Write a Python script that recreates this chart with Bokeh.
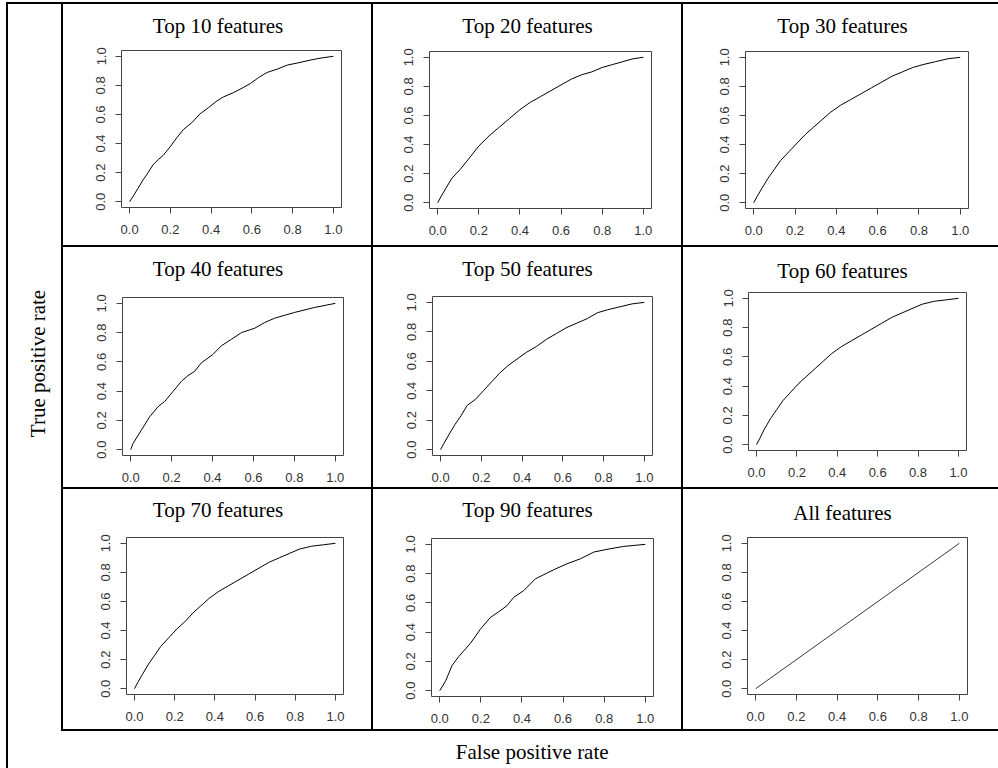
from bokeh.plotting import figure
from bokeh.layouts import row, column
from bokeh.models import Range1d, FixedTicker, PrintfTickFormatter, Spacer
from bokeh.core.properties import value
from bokeh.core.validation import silence
from bokeh.core.validation.warnings import MISSING_RENDERERS
from bokeh.embed import file_html
from bokeh.resources import INLINE

silence(MISSING_RENDERERS, True)

# ---------------- data ----------------
TITLES = ["Top 10 features", "Top 20 features", "Top 30 features",
          "Top 40 features", "Top 50 features", "Top 60 features",
          "Top 70 features", "Top 90 features", "All features"]
X_LABEL = "False positive rate"
Y_LABEL = "True positive rate"
TICKS = [0.0, 0.2, 0.4, 0.6, 0.8, 1.0]

FPR_TOP10 = [0.0, 0.016, 0.041, 0.066, 0.091, 0.115, 0.140, 0.165, 0.198, 0.231, 0.264, 0.305, 0.346,
             0.387, 0.428, 0.461, 0.511, 0.552, 0.593, 0.634, 0.675, 0.725, 0.774, 0.824, 0.890, 0.939, 1.0]
TPR_TOP10 = [0.0, 0.035, 0.092, 0.150, 0.201, 0.254, 0.289, 0.319, 0.376, 0.439, 0.497, 0.543, 0.605,
             0.647, 0.693, 0.721, 0.751, 0.781, 0.813, 0.855, 0.889, 0.912, 0.940, 0.954, 0.975, 0.988, 1.0]

FPR_TOP20 = [0.0, 0.015, 0.04, 0.07, 0.11, 0.15, 0.20, 0.25, 0.30, 0.35, 0.40, 0.45, 0.50,
             0.55, 0.60, 0.65, 0.70, 0.75, 0.80, 0.85, 0.90, 0.95, 1.0]
TPR_TOP20 = [0.0, 0.04, 0.10, 0.17, 0.23, 0.30, 0.39, 0.46, 0.52, 0.58, 0.64, 0.69, 0.73,
             0.77, 0.81, 0.85, 0.88, 0.90, 0.93, 0.95, 0.97, 0.99, 1.0]

FPR_TOP30 = [0.0, 0.015, 0.04, 0.07, 0.10, 0.13, 0.17, 0.21, 0.25, 0.29, 0.33, 0.37, 0.42, 0.47,
             0.52, 0.57, 0.62, 0.67, 0.72, 0.77, 0.82, 0.88, 0.94, 1.0]
TPR_TOP30 = [0.0, 0.04, 0.10, 0.17, 0.23, 0.29, 0.35, 0.41, 0.47, 0.52, 0.57, 0.62, 0.67, 0.71,
             0.75, 0.79, 0.83, 0.87, 0.90, 0.93, 0.95, 0.97, 0.99, 1.0]

FPR_TOP40 = [0.0, 0.011, 0.052, 0.093, 0.134, 0.166, 0.207, 0.248, 0.280, 0.313, 0.345, 0.402, 0.443,
             0.492, 0.541, 0.606, 0.655, 0.704, 0.801, 0.899, 1.0]
TPR_TOP40 = [0.0, 0.041, 0.133, 0.225, 0.294, 0.329, 0.398, 0.467, 0.506, 0.536, 0.593, 0.651, 0.710,
             0.754, 0.800, 0.830, 0.869, 0.899, 0.938, 0.972, 1.0]

FPR_TOP50 = [0.0, 0.015, 0.04, 0.07, 0.10, 0.13, 0.17, 0.21, 0.25, 0.29, 0.33, 0.37, 0.42, 0.47,
             0.52, 0.57, 0.62, 0.67, 0.72, 0.77, 0.82, 0.88, 0.94, 1.0]
TPR_TOP50 = [0.0, 0.04, 0.10, 0.17, 0.23, 0.30, 0.34, 0.40, 0.46, 0.52, 0.57, 0.61, 0.66, 0.70,
             0.75, 0.79, 0.83, 0.86, 0.89, 0.93, 0.95, 0.97, 0.99, 1.0]

FPR_TOP60 = [0.0, 0.015, 0.04, 0.07, 0.10, 0.13, 0.17, 0.21, 0.25, 0.29, 0.33, 0.37, 0.42, 0.47,
             0.52, 0.57, 0.62, 0.67, 0.72, 0.77, 0.82, 0.88, 0.94, 1.0]
TPR_TOP60 = [0.0, 0.04, 0.11, 0.18, 0.24, 0.30, 0.36, 0.42, 0.47, 0.52, 0.57, 0.62, 0.67, 0.71,
             0.75, 0.79, 0.83, 0.87, 0.90, 0.93, 0.96, 0.98, 0.99, 1.0]

FPR_TOP70 = [0.0, 0.015, 0.04, 0.07, 0.10, 0.13, 0.17, 0.21, 0.25, 0.29, 0.33, 0.37, 0.42, 0.47,
             0.52, 0.57, 0.62, 0.67, 0.72, 0.77, 0.82, 0.88, 0.94, 1.0]
TPR_TOP70 = [0.0, 0.04, 0.10, 0.17, 0.23, 0.29, 0.35, 0.41, 0.46, 0.52, 0.57, 0.62, 0.67, 0.71,
             0.75, 0.79, 0.83, 0.87, 0.90, 0.93, 0.96, 0.98, 0.99, 1.0]

FPR_TOP90 = [0.0, 0.028, 0.060, 0.092, 0.149, 0.198, 0.246, 0.287, 0.327, 0.360, 0.408, 0.465, 0.498,
             0.554, 0.619, 0.684, 0.749, 0.814, 0.895, 1.0]
TPR_TOP90 = [0.0, 0.064, 0.172, 0.232, 0.323, 0.420, 0.500, 0.539, 0.580, 0.638, 0.683, 0.764, 0.787,
             0.826, 0.867, 0.901, 0.947, 0.966, 0.986, 1.0]

FPR_ALL = [0.0, 1.0]
TPR_ALL = [0.0, 1.0]

SERIES = [(FPR_TOP10, TPR_TOP10), (FPR_TOP20, TPR_TOP20), (FPR_TOP30, TPR_TOP30),
          (FPR_TOP40, TPR_TOP40), (FPR_TOP50, TPR_TOP50), (FPR_TOP60, TPR_TOP60),
          (FPR_TOP70, TPR_TOP70), (FPR_TOP90, TPR_TOP90), (FPR_ALL, TPR_ALL)]

# ---------------- layout / style ----------------
COL_W = [308, 308, 315]
ROW_H = [241, 240, 240]
# (left, right, top, bottom) borders around each plot box, measured from the cell edges
MARGINS = [[(58, 30, 46, 38), (56, 30, 47, 37), (62, 30, 47, 37)],
           [(59, 28, 50, 32), (59, 29, 49, 32), (65, 32, 45, 37)],
           [(63, 28, 48, 35), (58, 28, 49, 33), (64, 31, 48, 35)]]
TITLE_H = 40                                  # strip holding each panel title
TITLE_MID = [[21.2, 21.2, 21.2],              # title text-box centre below cell top
             [21.2, 21.2, 23.2],
             [20.6, 20.6, 23.2]]
TITLE_CX = [154.5, 154, 159]                  # title centre from cell left, per column
SERIF = "Liberation Serif"
SANS = "Liberation Sans"
LINE_W = 2
LABEL_W = 53
GRID_W = LINE_W + sum(COL_W) + 2 * LINE_W
BOTTOM_H = 37
TOTAL_H = sum(ROW_H) + 3 * LINE_W + BOTTOM_H
FRAME_C = "#444444"


def black(w, h):
    return Spacer(width=w, height=h, styles={"background-color": "black"})


def blank(w, h, ml=0, mr=0):
    f = figure(width=w, height=h, toolbar_location=None, output_backend="svg", tools="",
               x_range=Range1d(0, w - ml - mr), y_range=Range1d(0, h),
               x_axis_type=None, y_axis_type=None, min_border=0,
               min_border_left=ml, min_border_right=mr, outline_line_color=None)
    f.grid.visible = False
    return f


def make_cell(title, fpr, tpr, w, h, m, mid, cx, diag):
    ml, mr, mt, mb = m
    t = blank(w, TITLE_H, ml, mr)
    t.text(x=[cx - ml], y=[TITLE_H - mid], text=[title], text_align="center",
           text_baseline="middle", text_font=value(SERIF), text_font_size="21px",
           text_color="black")
    p = figure(width=w, height=h - TITLE_H, toolbar_location=None, output_backend="svg", tools="",
               x_range=Range1d(-0.04, 1.04), y_range=Range1d(-0.04, 1.04),
               min_border_left=ml, min_border_right=mr, min_border_top=mt - TITLE_H,
               min_border_bottom=mb,
               background_fill_color="white", border_fill_color="white",
               outline_line_color=FRAME_C, outline_line_width=1)
    p.grid.visible = False
    for ax in (p.xaxis[0], p.yaxis[0]):
        ax.ticker = FixedTicker(ticks=TICKS)
        ax.formatter = PrintfTickFormatter(format="%.1f")
        ax.bounds = (0, 1)
        ax.axis_line_color = FRAME_C
        ax.major_tick_line_color = FRAME_C
        ax.major_tick_out = 6
        ax.major_tick_in = 0
        ax.minor_tick_line_color = None
        ax.major_label_text_font = SANS
        ax.major_label_text_font_size = "13px"
        ax.major_label_text_color = "#333333"
        ax.major_label_standoff = 11
    p.yaxis[0].major_label_orientation = "vertical"
    p.yaxis[0].major_label_standoff = 10
    if diag:
        p.line(fpr, tpr, line_color="#222222", line_width=0.9)
    else:
        p.line(fpr, tpr, line_color="black", line_width=1.0)
    return column(t, p, spacing=0)


rows = []
for r in range(3):
    items = []
    for c in range(3):
        k = r * 3 + c
        items.append(black(LINE_W, ROW_H[r]))
        items.append(make_cell(TITLES[k], SERIES[k][0], SERIES[k][1], COL_W[c], ROW_H[r],
                               MARGINS[r][c], TITLE_MID[r][c], TITLE_CX[c], k == 8))
    rows.append(row(*items, spacing=0))
    rows.append(black(GRID_W, LINE_W))

bottom = blank(GRID_W, BOTTOM_H)
bottom.text(x=[470.7], y=[16.3], text=[X_LABEL], text_align="center", text_baseline="middle",
            text_font=value(SERIF), text_font_size="21px", text_color="black")
rows.append(bottom)

left = blank(LABEL_W, TOTAL_H)
left.text(x=[29], y=[TOTAL_H - 359], text=[Y_LABEL], angle=1.5707963, text_align="center",
          text_baseline="middle", text_font=value(SERIF), text_font_size="21px", text_color="black")

body = row(black(LINE_W, TOTAL_H), left, column(*rows, spacing=0), spacing=0)
root = column(black(LINE_W + LABEL_W + GRID_W, LINE_W), body, spacing=0, margin=(2, 0, 0, 6))

open("out.html", "w").write(file_html(root, INLINE))
